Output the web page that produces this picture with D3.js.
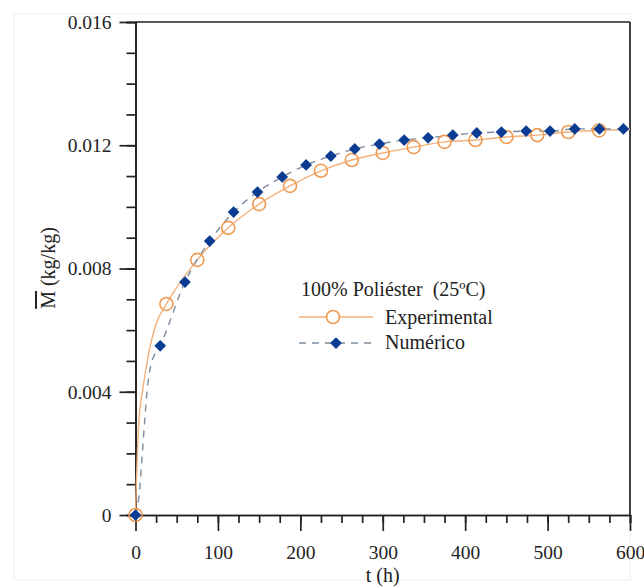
<!DOCTYPE html>
<html>
<head>
<meta charset="utf-8">
<script src="https://cdn.jsdelivr.net/npm/d3@7"></script>
<style>
  body { margin: 0; background: #fff; }
  svg text { font-family: "Liberation Serif", Tinos, "DejaVu Serif", "Noto Serif", "Times New Roman", Times, serif; fill: #222; }
</style>
</head>
<body>
<svg id="chart" width="644" height="587"></svg>
<script>
// dati (M in kg/kg)
const expTimes = [0, 37.5, 75, 112.5, 150, 187.5, 225, 262.5, 300, 337.5, 375, 412.5, 450, 487.5, 525, 562.5];
const expValues = [0, 0.00685, 0.00828, 0.00932, 0.01009, 0.01068, 0.01117, 0.01152, 0.01175, 0.01194, 0.01211, 0.01217, 0.01227, 0.01233, 0.01243, 0.01248];

const numTimes = [0, 30, 60, 90, 119, 148, 178, 207, 237, 266, 296, 326, 355, 385, 414, 444, 474, 503, 533, 563, 592];
const numValues = [0, 0.00549, 0.00756, 0.00889, 0.00983, 0.01048, 0.01097, 0.01136, 0.01165, 0.01188, 0.01204, 0.01217, 0.01224, 0.01233, 0.0124, 0.01243, 0.01246, 0.01246, 0.01253, 0.01253, 0.01253];

// tratti iniziali delle curve (ripidi vicino a t = 0)
const expCurveTimes = [0, 1, 2, 4, 9, 15, 25];
const expCurveValues = [0, 0.0010, 0.0018, 0.0030, 0.0041, 0.0051, 0.0062];
const numCurveTimes = [0, 5, 8, 11, 14, 19];
const numCurveValues = [0, 0.0008, 0.0019, 0.0030, 0.0040, 0.0049];
const curveEndTime = 600;
const expEndValue = 0.01252;
const numEndValue = 0.01254;

const xTicks = [0, 100, 200, 300, 400, 500, 600];
const yTicks = [0, 0.004, 0.008, 0.012, 0.016];

const svg = d3.select("#chart");
const serif = "'Liberation Serif', Tinos, 'DejaVu Serif', 'Noto Serif', 'Times New Roman', Times, serif";

// cornice leggera dell'immagine
svg.append("rect")
  .attr("x", 14).attr("y", 14).attr("width", 616).attr("height", 566)
  .attr("fill", "none").attr("stroke", "#eeeeee");

const x = d3.scaleLinear().domain([0, 600]).range([135.5, 630]);
const y = d3.scaleLinear().domain([0, 0.016]).range([515, 22]);

// Assi
const axisColor = "#222";

// tick minori
svg.append("g")
  .attr("class", "x-minor")
  .attr("transform", `translate(0,${y(0)})`)
  .call(d3.axisBottom(x).tickValues(d3.range(0, 601, 25)).tickSize(8).tickFormat(""));

svg.append("g")
  .attr("class", "y-minor")
  .attr("transform", `translate(${x(0)},0)`)
  .call(d3.axisLeft(y).tickValues(d3.range(0, 17).map(d => d * 0.001)).tickSize(9).tickFormat(""));

const xAxis = svg.append("g")
  .attr("class", "x-axis")
  .attr("transform", `translate(0,${y(0)})`)
  .call(d3.axisBottom(x).tickValues(xTicks).tickSize(16).tickSizeOuter(0).tickPadding(9).tickFormat(d => d));

const yAxis = svg.append("g")
  .attr("class", "y-axis")
  .attr("transform", `translate(${x(0)},0)`)
  .call(d3.axisLeft(y).tickValues(yTicks).tickSize(16).tickSizeOuter(0).tickPadding(8)
    .tickFormat(d => d === 0 ? "0" : d3.format(".3f")(d)));

svg.selectAll(".x-axis, .y-axis").attr("font-family", serif);
svg.selectAll(".x-axis text, .y-axis text")
  .style("font-family", serif)
  .attr("font-size", 19.5)
  .attr("fill", "#222");

svg.selectAll(".x-axis text").attr("dy", "0.95em");

svg.selectAll(".x-minor, .x-axis, .y-minor, .y-axis")
  .selectAll("line, path")
  .attr("stroke", axisColor)
  .attr("stroke-width", 1.7);

// cornice superiore e destra
svg.append("line")
  .attr("x1", x(0)).attr("x2", x(600)).attr("y1", y(0.016)).attr("y2", y(0.016))
  .attr("stroke", axisColor).attr("stroke-width", 1.7);
svg.append("line")
  .attr("x1", x(600)).attr("x2", x(600)).attr("y1", y(0.016)).attr("y2", y(0))
  .attr("stroke", axisColor).attr("stroke-width", 1.7);

// Etichette assi
svg.append("text")
  .attr("text-anchor", "middle")
  .attr("x", x(300))
  .attr("y", 582)
  .attr("font-size", 20)
  .style("font-family", serif)
  .text("t (h)");

const yLabel = svg.append("text")
  .attr("text-anchor", "middle")
  .attr("transform", `translate(55,268) rotate(-90)`)
  .attr("font-size", 20)
  .style("font-family", serif);
yLabel.append("tspan").attr("text-decoration", "overline").text("M");
yLabel.append("tspan").text(" (kg/kg)");

// Curve
const line = d3.line()
  .x(d => x(d[0]))
  .y(d => y(d[1]))
  .curve(d3.curveMonotoneX);

const expLinePts = expCurveTimes.map((t, i) => [t, expCurveValues[i]])
  .concat(expTimes.slice(1).map((t, i) => [t, expValues[i + 1]]))
  .concat([[curveEndTime, expEndValue]]);

const numLinePts = numCurveTimes.map((t, i) => [t, numCurveValues[i]])
  .concat(numTimes.slice(1).map((t, i) => [t, numValues[i + 1]]))
  .concat([[curveEndTime, numEndValue]]);

const expColor = "#EE9A52";
const numColor = "#0B3C93";
const dashColor = "#7D8C9E";

svg.append("path")
  .datum(expLinePts)
  .attr("fill", "none")
  .attr("stroke", "#F2B07A")
  .attr("stroke-width", 1.4)
  .attr("d", line);

svg.append("path")
  .datum(numLinePts)
  .attr("fill", "none")
  .attr("stroke", dashColor)
  .attr("stroke-width", 1.4)
  .attr("stroke-dasharray", "7,6")
  .attr("d", line);

// Punti
svg.append("g")
  .selectAll("circle")
  .data(expTimes.map((t, i) => ({ t, v: expValues[i] })))
  .join("circle")
  .attr("cx", d => x(d.t))
  .attr("cy", d => y(d.v))
  .attr("r", 6.5)
  .attr("fill", "none")
  .attr("stroke", expColor)
  .attr("stroke-width", 1.6);

const diamond = d3.symbol().type(d3.symbolDiamond2).size(88);

svg.append("g")
  .selectAll("path")
  .data(numTimes.map((t, i) => ({ t, v: numValues[i] })))
  .join("path")
  .attr("transform", d => `translate(${x(d.t)},${y(d.v)})`)
  .attr("d", diamond)
  .attr("fill", numColor);

// Leggenda
const legend = svg.append("g").attr("class", "legend").style("font-family", serif);

legend.append("text")
  .attr("x", 301).attr("y", 296)
  .attr("font-size", 20)
  .style("font-family", serif)
  .style("white-space", "pre")
  .text("100% Poliéster  (25ºC)");

legend.append("line")
  .attr("x1", 299).attr("x2", 373).attr("y1", 317).attr("y2", 317)
  .attr("stroke", "#F2B07A").attr("stroke-width", 1.4);
legend.append("circle")
  .attr("cx", 333).attr("cy", 317).attr("r", 6.5)
  .attr("fill", "#fff").attr("stroke", expColor).attr("stroke-width", 1.6);
legend.append("text")
  .attr("x", 385).attr("y", 324)
  .attr("font-size", 20)
  .style("font-family", serif)
  .text("Experimental");

legend.append("line")
  .attr("x1", 299).attr("x2", 373).attr("y1", 343).attr("y2", 343)
  .attr("stroke", dashColor).attr("stroke-width", 1.4)
  .attr("stroke-dasharray", "7,6");
legend.append("path")
  .attr("transform", "translate(336,343)")
  .attr("d", diamond)
  .attr("fill", numColor);
legend.append("text")
  .attr("x", 385).attr("y", 349)
  .attr("font-size", 20)
  .style("font-family", serif)
  .text("Numérico");
</script>
</body>
</html>
